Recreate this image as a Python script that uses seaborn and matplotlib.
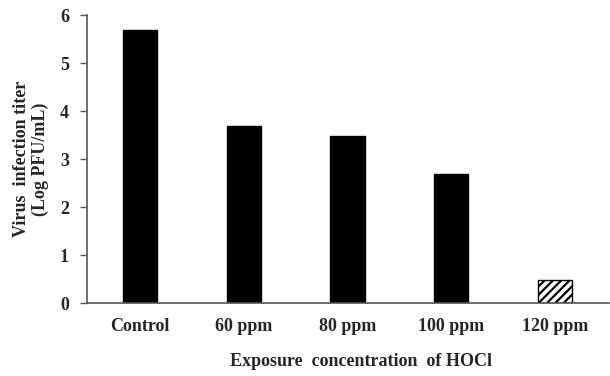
import pandas as pd
import matplotlib.pyplot as plt
import seaborn as sns

# data
categories = ["Control", "60 ppm", "80 ppm", "100 ppm", "120 ppm"]
titer = [5.68, 3.68, 3.48, 2.68, 0.48]

df = pd.DataFrame({"conc": categories, "titer": titer})

sns.set_style("white")
plt.rcParams["font.family"] = ["Liberation Serif", "DejaVu Serif"]
plt.rcParams["font.weight"] = "bold"
plt.rcParams["hatch.linewidth"] = 1.6

fig = plt.figure(figsize=(6.1, 3.76), dpi=100)
ax = fig.add_axes([0.1426, 0.194, 0.856, 0.766])

colors = ["black"] * 4 + ["white"]
sns.barplot(data=df, x="conc", y="titer", hue="conc", palette=colors,
            legend=False, width=0.33, ax=ax, edgecolor="black", linewidth=1)
ax.patches[-1].set_hatch("////")

ax.set_ylim(0, 6)
ax.set_xlim(-0.51, 4.52)
ax.set_yticks(range(0, 7))
ax.tick_params(axis="y", direction="out", length=5, width=1, left=True,
               labelsize=13, pad=8, color="#555555")
ax.tick_params(axis="x", length=0, labelsize=13, pad=11)
for lab in ax.get_xticklabels() + ax.get_yticklabels():
    lab.set_fontweight("bold")

for s in ["top", "right"]:
    ax.spines[s].set_visible(False)
for s in ["left", "bottom"]:
    ax.spines[s].set_color("#555555")
    ax.spines[s].set_linewidth(1.2)

ax.set_ylabel("Virus  infection titer\n(Log PFU/mL)", fontsize=13,
              fontweight="bold", labelpad=8, linespacing=1.15)
ax.set_xlabel("Exposure  concentration  of HOCl", fontsize=13,
              fontweight="bold")
ax.xaxis.set_label_coords(0.525, -0.175)

plt.savefig("out.png", dpi=100)
